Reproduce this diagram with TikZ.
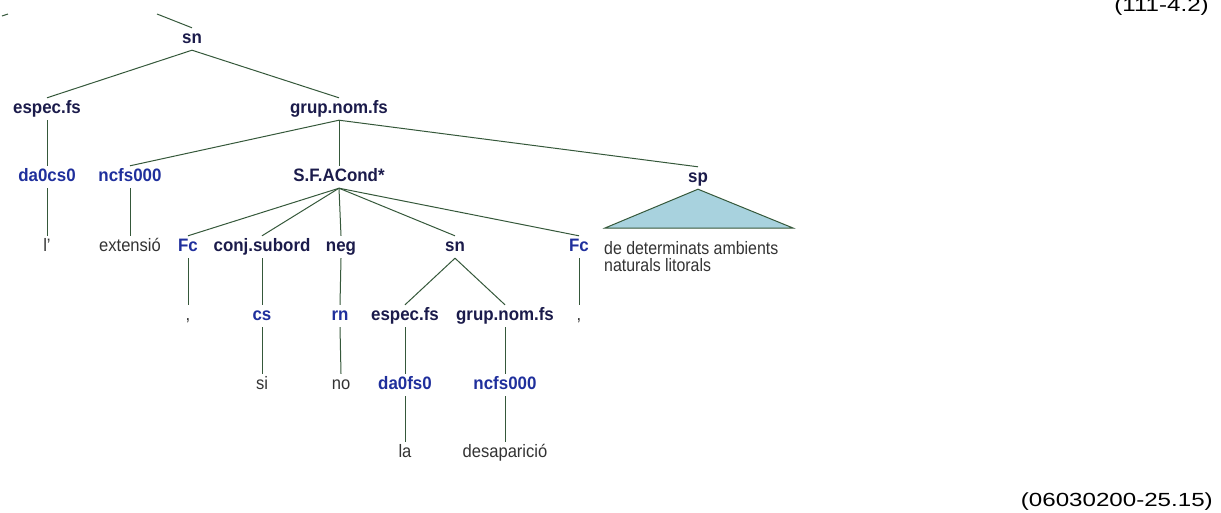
\documentclass[tikz,border=0pt]{standalone}
\usepackage{fontspec}
\setmainfont{Liberation Sans}
\definecolor{catcol}{HTML}{1B1B4B}
\definecolor{tagcol}{HTML}{1F2F9C}
\definecolor{wordcol}{HTML}{333333}
\definecolor{edgecol}{HTML}{35583A}
\definecolor{trifill}{HTML}{A8D2DE}
\tikzset{
  every node/.style={inner sep=0pt,minimum height=22pt,text height=12pt,text depth=4pt},
  cat/.style={font=\fontsize{18}{18}\selectfont\bfseries,text=catcol,xscale=.94},
  tag/.style={cat,text=tagcol},
  word/.style={font=\fontsize{18}{18}\selectfont,text=wordcol,xscale=.92},
  phrase/.style={word,align=left,anchor=north west,minimum height=0pt,text height=,text depth=,
    font=\fontsize{18}{17}\selectfont,xscale=.96},
  edge/.style={draw=edgecol,line width=1pt},
  roof/.style={edge,fill=trifill},
  refcode/.style={font=\fontsize{19}{19}\selectfont,text=black,anchor=base east,xscale=1.27}
}

\begin{document}
\begin{tikzpicture}[x=1pt,y=-1pt]
\useasboundingbox (0,0) rectangle (1221,512);
% rows of the tree
\node[cat]  (sn0)    at (192,39)  {sn};
\node[cat]  (espA)   at (47,109)  {espec.fs};
\node[cat]  (grupA)  at (339,109) {grup.nom.fs};
\node[tag]  (da0cs0) at (47,177)  {da0cs0};
\node[tag]  (ncfsA)  at (130,177) {ncfs000};
\node[cat]  (sfa)    at (339,177) {S.F.ACond*};
\node[cat]  (sp)     at (698,178) {sp};
\node[word] (wl)     at (47,247)  {l’};
\node[word] (wext)   at (130,247) {extensió};
\node[tag]  (fcA)    at (188,247) {Fc};
\node[cat]  (conj)   at (262,247) {conj.subord};
\node[cat]  (neg)    at (341,247) {neg};
\node[cat]  (snB)    at (455,247) {sn};
\node[tag]  (fcB)    at (579,247) {Fc};
\node[word] (cmA)    at (188,316) {,};
\node[tag]  (cs)     at (262,316) {cs};
\node[tag]  (rn)     at (340,316) {rn};
\node[cat]  (espB)   at (405,316) {espec.fs};
\node[cat]  (grupB)  at (505,316) {grup.nom.fs};
\node[word] (cmB)    at (579,316) {,};
\node[word] (wsi)    at (262,385) {si};
\node[word] (wno)    at (341,385) {no};
\node[tag]  (da0fs0) at (405,385) {da0fs0};
\node[tag]  (ncfsB)  at (505,385) {ncfs000};
\node[word] (wla)    at (405,453) {la};
\node[word] (wdes)   at (505,453) {desaparició};
\node[phrase] (wsp) at (604,241) {de determinats ambients\\naturals litorals};
% branches
\coordinate (up)   at (157,14);
\coordinate (cutA) at (2,16);
\coordinate (cutB) at (8,14);
\draw[edge] (cutA) -- (cutB);
\draw[edge] (up) -- (sn0.north);
\foreach \p/\c in {sn0/espA,sn0/grupA,espA/da0cs0,da0cs0/wl,grupA/ncfsA,grupA/sfa,grupA/sp,
  ncfsA/wext,sfa/fcA,sfa/conj,sfa/neg,sfa/snB,sfa/fcB,fcA/cmA,conj/cs,cs/wsi,neg/rn,rn/wno,
  snB/espB,snB/grupB,espB/da0fs0,da0fs0/wla,grupB/ncfsB,ncfsB/wdes,fcB/cmB}
  \draw[edge] (\p.south) -- (\c.north);
% roof over the unexpanded sp
\coordinate (roofL) at (605,228);
\coordinate (roofR) at (793,228);
\draw[roof] (sp.south) -- (roofL) -- (roofR) -- cycle;
% sentence codes
\node[refcode] (codeA) at (1209,11)  {(111-4.2)};
\node[refcode] (codeB) at (1213,506) {(06030200-25.15)};
\end{tikzpicture}
\end{document}
